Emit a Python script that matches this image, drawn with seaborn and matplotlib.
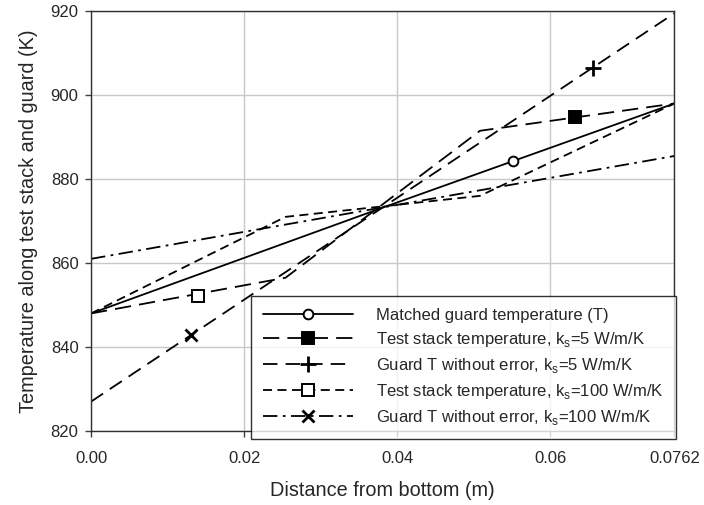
import seaborn as sns
from matplotlib import pyplot as plt
from matplotlib.lines import Line2D

# distance along the stack (m)
x_guard = [0.0, 0.0762]
x_stack = [0.0, 0.0254, 0.0508, 0.0762]
x_matched = [0.0, 0.0381, 0.0762]

# temperatures (K)
T_matched = [848.0, 873.2, 898.0]
T_test_k5 = [848.0, 856.5, 891.5, 898.0]
T_guard_k5 = [827.0, 919.5]
T_test_k100 = [848.0, 871.0, 876.0, 898.0]
T_guard_k100 = [861.0, 885.5]

# marker points seen on the curves
mk_x = [0.0551, 0.0632, 0.0656, 0.0140, 0.0131]
mk_T = [884.2, 894.7, 906.5, 852.1, 842.9]

labels = [
    "Matched guard temperature (T)",
    "Test stack temperature, k$_{\\mathregular{s}}$=5 W/m/K",
    "Guard T without error, k$_{\\mathregular{s}}$=5 W/m/K",
    "Test stack temperature, k$_{\\mathregular{s}}$=100 W/m/K",
    "Guard T without error, k$_{\\mathregular{s}}$=100 W/m/K",
]

xticks = [0.0, 0.02, 0.04, 0.06, 0.0762]
xticklabels = ["0.00", "0.02", "0.04", "0.06", "0.0762"]
yticks = [820, 840, 860, 880, 900, 920]

sns.set_style("whitegrid")
plt.rcParams['font.family'] = ['Liberation Sans', 'DejaVu Sans']

fig = plt.figure(figsize=(7.04, 5.05), dpi=100)
ax = fig.add_axes([0.1293, 0.1465, 0.8287, 0.8315])

lw = 1.3
# linestyle, marker, face, size
styles = [
    ("-", "o", "white", 7),
    ((0, (9, 4.5)), "s", "black", 9),
    ((0, (8, 4.5)), "+", "black", 11),
    ((0, (5, 3)), "s", "white", 8.5),
    ((0, (8, 3, 1.5, 3)), "x", "black", 8),
]
series = [(x_matched, T_matched), (x_stack, T_test_k5), (x_guard, T_guard_k5),
          (x_stack, T_test_k100), (x_guard, T_guard_k100)]

for (xs, ys), (ls, _, _, _) in zip(series, styles):
    sns.lineplot(x=xs, y=ys, ax=ax, color="black", lw=lw, linestyle=ls,
                 sort=False, estimator=None)


def mew(m):
    return 2.0 if m in ("+", "x") else 1.4


# markers as drawn on the curves
for xm, ym, (_, m, fc, ms) in zip(mk_x, mk_T, styles):
    ax.plot([xm], [ym], linestyle="none", marker=m, markersize=ms,
            markerfacecolor=fc, markeredgecolor="black",
            markeredgewidth=mew(m), zorder=5)

ax.set_xlim(0, 0.0762)
ax.set_ylim(820, 920)
ax.set_xticks(xticks)
ax.set_xticklabels(xticklabels)
ax.set_yticks(yticks)
ax.tick_params(axis="both", labelsize=12, length=4, width=1, color="#404040",
               direction="out", left=True, bottom=True)
ax.tick_params(axis="x", pad=10.5)
ax.tick_params(axis="y", pad=5)
ax.grid(True, color="#c8c8c8", lw=1)
for s in ax.spines.values():
    s.set_visible(True)
    s.set_color("#303030")
    s.set_linewidth(1.0)

ax.set_xlabel("Distance from bottom (m)", fontsize=14.3)
ax.set_ylabel("Temperature along test stack and guard (K)", fontsize=14.3)
ax.xaxis.set_label_coords(0.5, -0.12)
ax.yaxis.set_label_coords(-0.091, 0.5)

handles = []
for ls, m, fc, ms in styles:
    handles.append(Line2D([], [], color="black", lw=lw, linestyle=ls, marker=m,
                          markersize=ms, markerfacecolor=fc,
                          markeredgecolor="black", markeredgewidth=mew(m)))
leg = ax.legend(handles, labels, loc="lower right",
                bbox_to_anchor=(676 / 704, 1 - 439 / 505), bbox_transform=fig.transFigure,
                fontsize=12, handlelength=5.4, handletextpad=1.4, labelspacing=0.42,
                numpoints=1, frameon=True, fancybox=False, borderpad=0.72,
                borderaxespad=0)
leg.get_frame().set_edgecolor("black")
leg.get_frame().set_linewidth(1.0)
leg.set_zorder(10)

fig.savefig("out.png", dpi=100)
